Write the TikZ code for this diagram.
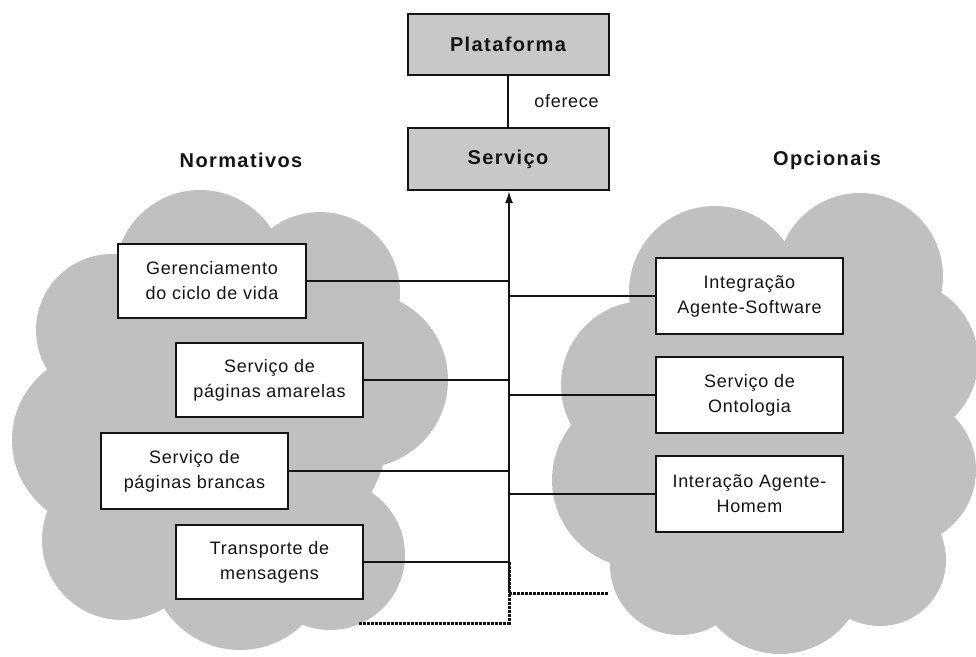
\documentclass[tikz,border=0pt]{standalone}
\usepackage{fontspec}
\setmainfont{Liberation Sans}
\newfontfamily\boxfont[LetterSpace=4]{Liberation Sans}
\newfontfamily\headfont[LetterSpace=7]{Liberation Sans}
\usetikzlibrary{arrows.meta}
\definecolor{cloudgray}{RGB}{192,192,192}
\definecolor{boxgray}{RGB}{200,200,200}
\definecolor{ink}{RGB}{20,20,20}
\tikzset{
  cloudpart/.style={fill=cloudgray, draw=none},
  headbox/.style={draw=ink, line width=2pt, fill=boxgray, minimum width=201pt, minimum height=61pt, inner sep=0pt, font=\headfont\fontsize{20}{24}\selectfont\bfseries, text=ink},
  itembox/.style={draw=ink, line width=2pt, fill=white, minimum width=187pt, minimum height=75pt, inner sep=0pt, align=center, font=\boxfont\fontsize{18}{25}\selectfont, text=ink},
  grouplabel/.style={font=\headfont\fontsize{20}{24}\selectfont\bfseries, text=ink},
  conn/.style={draw=ink, line width=2pt},
  dotconn/.style={draw=ink, line width=3pt, dash pattern=on 3pt off 1pt}
}
\begin{document}
\begin{tikzpicture}[x=1pt, y=-1pt]
\useasboundingbox (0,0) rectangle (976,656);
% left cloud
\foreach \cx/\cy/\r in {200/275/85, 320/292/80, 112/330/76, 100/440/88, 360/380/88, 122/540/80, 240/560/90, 330/555/75, 240/420/150}
  \fill[cloudpart] (\cx,\cy) circle[radius=\r];
% right cloud
\foreach \cx/\cy/\r in {715/292/86, 860/276/83, 645/385/84, 898/360/80, 640/480/88, 900/470/76, 680/565/70, 780/568/86, 880/560/66, 770/420/150}
  \fill[cloudpart] (\cx,\cy) circle[radius=\r];

\node[headbox] (plat) at (508,44.5) {Plataforma};
\node[headbox, minimum height=62pt] (serv) at (508,159) {Serviço};
\draw[conn] (plat) -- (serv) node[pos=0.5, right=22pt, font=\boxfont\fontsize{18}{22}\selectfont, text=ink] {oferece};

\node[grouplabel] (norm) at (241,160) {Normativos};
\node[grouplabel] (opc) at (827,160) {Opcionais};

\node[itembox, minimum width=188pt, minimum height=74pt] (ger) at (212,281) {Gerenciamento\\do ciclo de vida};
\node[itembox, minimum height=74pt] (ama) at (269.5,380) {Serviço de\\páginas amarelas};
\node[itembox, minimum height=76pt] (bra) at (194.5,471) {Serviço de\\páginas brancas};
\node[itembox, minimum height=74pt] (tra) at (269.5,562) {Transporte de\\mensagens};

\node[itembox, minimum height=76pt] (int) at (749.5,296) {Integração\\Agente-Software};
\node[itembox, minimum height=76pt] (ont) at (749.5,395) {Serviço de\\Ontologia};
\node[itembox, minimum height=76pt] (hom) at (749.5,494) {Interação Agente-\\Homem};

\coordinate (spbot) at (509,593);
\coordinate (spend) at (509,623);
\coordinate (dleft) at (358,623);
\coordinate (dright) at (608,593);
\coordinate (dtop) at (509,562);

\draw[conn, -{Latex[length=12pt, width=8pt]}] (spbot) -- (serv.south -| spbot);
\foreach \b in {ger, ama, bra, tra}
  \draw[conn] (\b.east) -- (\b.east -| spbot);
\foreach \b in {int, ont, hom}
  \draw[conn] (\b.west) -- (\b.west -| spbot);
\draw[dotconn] (dtop) -- (spend) -- (dleft);
\draw[dotconn] (spbot) -- (dright);
\end{tikzpicture}
\end{document}
